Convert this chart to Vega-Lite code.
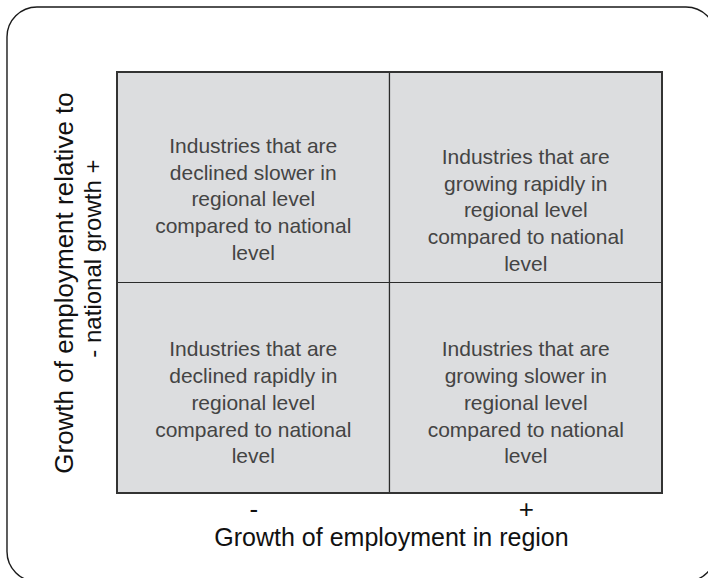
{
  "$schema": "https://vega.github.io/schema/vega-lite/v6.json",
  "width": 545,
  "height": 421,
  "autosize": {"type": "none"},
  "padding": {"left": 117, "top": 72, "right": 46, "bottom": 85},
  "background": "white",
  "config": {
    "view": {"stroke": null},
    "font": "Liberation Sans",
    "axis": {"grid": false, "ticks": false, "tickSize": 0, "domain": false, "titleFont": "Liberation Sans", "titleFontSize": 26, "titleFontWeight": "normal", "titleColor": "#111", "labelFont": "Liberation Sans", "labelColor": "#111", "labelLimit": 500},
    "axisX": {"labelFontSize": 26},
    "axisY": {"labelFontSize": 24}
  },
  "datasets": {
    "cells": [
      {"x0": 0, "x1": 1, "y0": 1, "y1": 2, "tx": 0.5, "ty": 1.6442, "label": "Industries that are\ndeclined slower in\nregional level\ncompared to national\nlevel"},
      {"x0": 1, "x1": 2, "y0": 1, "y1": 2, "tx": 1.5, "ty": 1.5919, "label": "Industries that are\ngrowing rapidly in\nregional level\ncompared to national\nlevel"},
      {"x0": 0, "x1": 1, "y0": 0, "y1": 1, "tx": 0.5, "ty": 0.6774, "label": "Industries that are\ndeclined rapidly in\nregional level\ncompared to national\nlevel"},
      {"x0": 1, "x1": 2, "y0": 0, "y1": 1, "tx": 1.5, "ty": 0.6774, "label": "Industries that are\ngrowing slower in\nregional level\ncompared to national\nlevel"}
    ],
    "frame": [{"name": "frame"}]
  },
  "layer": [
    {
      "data": {"name": "cells"},
      "mark": {"type": "rect", "fill": "#dcdddf", "stroke": "#2b2b2b", "strokeWidth": 1.2},
      "encoding": {
        "x": {
          "field": "x0", "type": "quantitative",
          "scale": {"domain": [0, 2], "nice": false, "zero": false},
          "axis": {
            "values": [0.5, 1.5],
            "labelExpr": "datum.value < 1 ? '-' : '+'",
            "labelFontSize": 26,
            "labelBaseline": "alphabetic",
            "labelPadding": 24,
            "labelFlush": false,
            "labelOverlap": false,
            "title": "Growth of employment in region",
            "titleFontSize": 25,
            "titleBaseline": "alphabetic",
            "titleX": 274,
            "titleY": 52
          }
        },
        "x2": {"field": "x1"},
        "y": {
          "field": "y0", "type": "quantitative",
          "scale": {"domain": [0, 2], "nice": false, "zero": false},
          "axis": {
            "values": [1.116],
            "labelExpr": "'- national growth +'",
            "labelFontSize": 24,
            "labelLimit": 500,
            "labelAngle": 270,
            "labelAlign": "center",
            "labelBaseline": "alphabetic",
            "labelPadding": 17,
            "labelFlush": false,
            "labelOverlap": false,
            "title": "Growth of employment relative to",
            "titleAngle": 270,
            "titleAlign": "center",
            "titleBaseline": "alphabetic",
            "titleX": -45,
            "titleY": 210.5
          }
        },
        "y2": {"field": "y1"}
      }
    },
    {
      "data": {"name": "frame"},
      "mark": {"type": "rect", "filled": false, "stroke": "#1a1a1a", "strokeWidth": 1.4, "cornerRadius": 30},
      "encoding": {
        "x": {"datum": -0.4037, "type": "quantitative", "scale": {"domain": [0, 2], "nice": false, "zero": false}},
        "x2": {"datum": 2.198},
        "y": {"datum": 2.3088, "type": "quantitative", "scale": {"domain": [0, 2], "nice": false, "zero": false}},
        "y2": {"datum": -0.4204}
      }
    },
    {
      "data": {"name": "frame"},
      "mark": {"type": "rect", "filled": false, "stroke": "#333333", "strokeWidth": 2},
      "encoding": {
        "x": {"datum": 0, "type": "quantitative", "scale": {"domain": [0, 2], "nice": false, "zero": false}},
        "x2": {"datum": 2},
        "y": {"datum": 0, "type": "quantitative", "scale": {"domain": [0, 2], "nice": false, "zero": false}},
        "y2": {"datum": 2}
      }
    },
    {
      "data": {"name": "cells"},
      "mark": {"type": "text", "lineBreak": "\n", "font": "Liberation Sans", "fontSize": 21, "lineHeight": 26.7, "color": "#444444", "align": "center", "baseline": "middle"},
      "encoding": {
        "x": {"field": "tx", "type": "quantitative", "scale": {"domain": [0, 2], "nice": false, "zero": false}},
        "y": {"field": "ty", "type": "quantitative", "scale": {"domain": [0, 2], "nice": false, "zero": false}},
        "text": {"field": "label"}
      }
    }
  ]
}
